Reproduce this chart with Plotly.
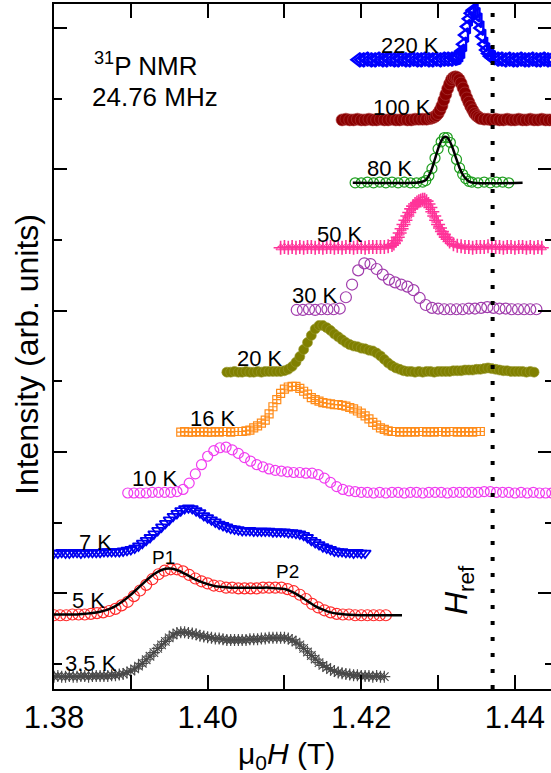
import plotly.graph_objects as go

# 31P NMR field-swept spectra at 24.76 MHz.
# Each spectrum: (mu0*H in T, normalised intensity above its own baseline).
spec_3p5K = [
    (1.3800, 0.00), (1.3805, 0.01), (1.3810, 0.00), (1.3815, 0.00), (1.3820, 0.01), (1.3825, 0.00),
    (1.3830, 0.00), (1.3835, 0.01), (1.3840, 0.01), (1.3845, 0.00), (1.3850, 0.01), (1.3855, 0.01),
    (1.3860, 0.01), (1.3865, 0.01), (1.3870, 0.01), (1.3875, 0.02), (1.3880, 0.02), (1.3885, 0.03),
    (1.3890, 0.04), (1.3895, 0.06), (1.3900, 0.08), (1.3905, 0.11), (1.3910, 0.15), (1.3915, 0.19),
    (1.3920, 0.24), (1.3925, 0.29), (1.3930, 0.34), (1.3935, 0.40), (1.3940, 0.45), (1.3945, 0.50),
    (1.3950, 0.55), (1.3955, 0.59), (1.3960, 0.62), (1.3965, 0.63), (1.3970, 0.63), (1.3975, 0.62),
    (1.3980, 0.61), (1.3985, 0.60), (1.3990, 0.58), (1.3995, 0.57), (1.4000, 0.56), (1.4005, 0.55),
    (1.4010, 0.54), (1.4015, 0.54), (1.4020, 0.53), (1.4025, 0.52), (1.4030, 0.52), (1.4035, 0.52),
    (1.4040, 0.52), (1.4045, 0.52), (1.4050, 0.52), (1.4055, 0.53), (1.4060, 0.53), (1.4065, 0.53),
    (1.4070, 0.54), (1.4075, 0.54), (1.4080, 0.55), (1.4085, 0.55), (1.4090, 0.55), (1.4095, 0.55),
    (1.4100, 0.55), (1.4105, 0.54), (1.4110, 0.52), (1.4115, 0.49), (1.4120, 0.45), (1.4125, 0.40),
    (1.4130, 0.35), (1.4135, 0.30), (1.4140, 0.25), (1.4145, 0.20), (1.4150, 0.16), (1.4155, 0.13),
    (1.4160, 0.10), (1.4165, 0.08), (1.4170, 0.06), (1.4175, 0.05), (1.4180, 0.04), (1.4185, 0.03),
    (1.4190, 0.02), (1.4195, 0.02), (1.4200, 0.01), (1.4205, 0.01), (1.4210, 0.01), (1.4215, 0.00),
    (1.4220, 0.01), (1.4225, 0.00), (1.4230, 0.00),
]

spec_5K = [
    (1.3800, 0.00), (1.3808, 0.00), (1.3816, 0.00), (1.3824, 0.01), (1.3832, 0.01), (1.3840, 0.01),
    (1.3848, 0.02), (1.3856, 0.03), (1.3864, 0.04), (1.3872, 0.06), (1.3880, 0.09), (1.3888, 0.14),
    (1.3896, 0.19), (1.3904, 0.27), (1.3912, 0.35), (1.3920, 0.43), (1.3928, 0.51), (1.3936, 0.58),
    (1.3944, 0.63), (1.3952, 0.65), (1.3960, 0.65), (1.3968, 0.62), (1.3976, 0.57), (1.3984, 0.52),
    (1.3992, 0.48), (1.4000, 0.45), (1.4008, 0.42), (1.4016, 0.41), (1.4024, 0.39), (1.4032, 0.39),
    (1.4040, 0.38), (1.4048, 0.38), (1.4056, 0.38), (1.4064, 0.38), (1.4072, 0.39), (1.4080, 0.39),
    (1.4088, 0.39), (1.4096, 0.39), (1.4104, 0.37), (1.4112, 0.34), (1.4120, 0.29), (1.4128, 0.23),
    (1.4136, 0.16), (1.4144, 0.11), (1.4152, 0.07), (1.4160, 0.04), (1.4168, 0.02), (1.4176, 0.01),
    (1.4184, 0.01), (1.4192, 0.00), (1.4200, 0.00), (1.4208, 0.00), (1.4216, 0.00), (1.4224, 0.00),
    (1.4232, 0.00),
]

fit_5K = [
    (1.380, 0.01), (1.381, 0.01), (1.382, 0.01), (1.383, 0.01), (1.384, 0.02), (1.385, 0.03),
    (1.386, 0.05), (1.387, 0.08), (1.388, 0.13), (1.389, 0.20), (1.390, 0.29), (1.391, 0.39),
    (1.392, 0.49), (1.393, 0.58), (1.394, 0.64), (1.395, 0.66), (1.396, 0.64), (1.397, 0.59),
    (1.398, 0.53), (1.399, 0.48), (1.400, 0.44), (1.401, 0.41), (1.402, 0.40), (1.403, 0.39),
    (1.404, 0.39), (1.405, 0.39), (1.406, 0.39), (1.407, 0.39), (1.408, 0.39), (1.409, 0.38),
    (1.410, 0.37), (1.411, 0.33), (1.412, 0.27), (1.413, 0.20), (1.414, 0.13), (1.415, 0.08),
    (1.416, 0.04), (1.417, 0.02), (1.418, 0.01), (1.420, 0.00), (1.4253, 0.00),
]

spec_7K = [
    (1.3800, 0.00), (1.3805, 0.00), (1.3810, 0.01), (1.3815, 0.00), (1.3820, 0.00), (1.3825, 0.01),
    (1.3830, 0.01), (1.3835, 0.00), (1.3840, 0.01), (1.3845, 0.01), (1.3850, 0.01), (1.3855, 0.01),
    (1.3860, 0.01), (1.3865, 0.02), (1.3870, 0.02), (1.3875, 0.02), (1.3880, 0.02), (1.3885, 0.02),
    (1.3890, 0.03), (1.3895, 0.04), (1.3900, 0.05), (1.3905, 0.07), (1.3910, 0.10), (1.3915, 0.14),
    (1.3920, 0.18), (1.3925, 0.22), (1.3930, 0.27), (1.3935, 0.32), (1.3940, 0.37), (1.3945, 0.42),
    (1.3950, 0.47), (1.3955, 0.52), (1.3960, 0.56), (1.3965, 0.60), (1.3970, 0.63), (1.3975, 0.64),
    (1.3980, 0.63), (1.3985, 0.60), (1.3990, 0.57), (1.3995, 0.53), (1.4000, 0.50), (1.4005, 0.47),
    (1.4010, 0.44), (1.4015, 0.41), (1.4020, 0.39), (1.4025, 0.37), (1.4030, 0.35), (1.4035, 0.34),
    (1.4040, 0.33), (1.4045, 0.32), (1.4050, 0.32), (1.4055, 0.32), (1.4060, 0.31), (1.4065, 0.31),
    (1.4070, 0.31), (1.4075, 0.31), (1.4080, 0.31), (1.4085, 0.30), (1.4090, 0.30), (1.4095, 0.30),
    (1.4100, 0.30), (1.4105, 0.29), (1.4110, 0.29), (1.4115, 0.28), (1.4120, 0.27), (1.4125, 0.25),
    (1.4130, 0.22), (1.4135, 0.18), (1.4140, 0.15), (1.4145, 0.12), (1.4150, 0.09), (1.4155, 0.07),
    (1.4160, 0.05), (1.4165, 0.03), (1.4170, 0.02), (1.4175, 0.02), (1.4180, 0.01), (1.4185, 0.01),
    (1.4190, 0.00), (1.4195, 0.01), (1.4200, 0.00), (1.4205, 0.00),
]

spec_10K = [
    (1.3896, 0.00), (1.3904, 0.00), (1.3912, 0.00), (1.3920, 0.00), (1.3928, 0.01), (1.3936, 0.01),
    (1.3944, 0.01), (1.3952, 0.01), (1.3960, 0.02), (1.3968, 0.05), (1.3976, 0.14), (1.3984, 0.27),
    (1.3992, 0.40), (1.4000, 0.52), (1.4008, 0.60), (1.4016, 0.64), (1.4024, 0.65), (1.4032, 0.61),
    (1.4040, 0.56), (1.4048, 0.50), (1.4056, 0.45), (1.4064, 0.40), (1.4072, 0.37), (1.4080, 0.34),
    (1.4088, 0.32), (1.4096, 0.31), (1.4104, 0.30), (1.4112, 0.29), (1.4120, 0.29), (1.4128, 0.28),
    (1.4136, 0.28), (1.4144, 0.26), (1.4152, 0.21), (1.4160, 0.15), (1.4168, 0.09), (1.4176, 0.05),
    (1.4184, 0.03), (1.4192, 0.02), (1.4200, 0.01), (1.4208, 0.01), (1.4216, 0.00), (1.4224, 0.01),
    (1.4232, 0.00), (1.4240, 0.01), (1.4248, 0.01), (1.4256, 0.00), (1.4264, 0.01), (1.4272, 0.01),
    (1.4280, 0.00), (1.4288, 0.01), (1.4296, 0.01), (1.4304, 0.01), (1.4312, 0.00), (1.4320, 0.01),
    (1.4328, 0.01), (1.4336, 0.01), (1.4344, 0.01), (1.4352, 0.01), (1.4360, 0.02), (1.4368, 0.02),
    (1.4376, 0.01), (1.4384, 0.01), (1.4392, 0.01), (1.4400, 0.00), (1.4408, 0.01), (1.4416, 0.00),
    (1.4424, 0.01), (1.4432, 0.00), (1.4440, 0.00), (1.4448, 0.00),
]

spec_16K = [
    (1.3965, 0.00), (1.3970, 0.01), (1.3975, 0.00), (1.3980, 0.00), (1.3985, 0.01), (1.3990, 0.00),
    (1.3995, 0.01), (1.4000, 0.00), (1.4005, 0.00), (1.4010, 0.01), (1.4015, 0.00), (1.4020, 0.01),
    (1.4025, 0.01), (1.4030, 0.00), (1.4035, 0.01), (1.4040, 0.01), (1.4045, 0.01), (1.4050, 0.02),
    (1.4055, 0.03), (1.4060, 0.06), (1.4065, 0.09), (1.4070, 0.13), (1.4075, 0.17), (1.4080, 0.26),
    (1.4085, 0.36), (1.4090, 0.46), (1.4095, 0.55), (1.4100, 0.61), (1.4105, 0.64), (1.4110, 0.65),
    (1.4115, 0.65), (1.4120, 0.62), (1.4125, 0.58), (1.4130, 0.54), (1.4135, 0.49), (1.4140, 0.46),
    (1.4145, 0.44), (1.4150, 0.42), (1.4155, 0.41), (1.4160, 0.40), (1.4165, 0.39), (1.4170, 0.39),
    (1.4175, 0.38), (1.4180, 0.37), (1.4185, 0.35), (1.4190, 0.33), (1.4195, 0.30), (1.4200, 0.27),
    (1.4205, 0.23), (1.4210, 0.19), (1.4215, 0.14), (1.4220, 0.10), (1.4225, 0.06), (1.4230, 0.04),
    (1.4235, 0.02), (1.4240, 0.01), (1.4245, 0.01), (1.4250, 0.00), (1.4255, 0.01), (1.4260, 0.00),
    (1.4265, 0.01), (1.4270, 0.00), (1.4275, 0.01), (1.4280, 0.01), (1.4285, 0.00), (1.4290, 0.01),
    (1.4295, 0.00), (1.4300, 0.01), (1.4305, 0.01), (1.4310, 0.00), (1.4315, 0.01), (1.4320, 0.01),
    (1.4325, 0.00), (1.4330, 0.01), (1.4335, 0.00), (1.4340, 0.01), (1.4345, 0.00), (1.4350, 0.01),
    (1.4355, 0.01),
]

spec_20K = [
    (1.4025, 0.00), (1.4030, 0.00), (1.4035, 0.01), (1.4040, 0.00), (1.4045, 0.00), (1.4050, 0.01),
    (1.4055, 0.00), (1.4060, 0.00), (1.4065, 0.01), (1.4070, 0.00), (1.4075, 0.01), (1.4080, 0.01),
    (1.4085, 0.01), (1.4090, 0.01), (1.4095, 0.01), (1.4100, 0.02), (1.4105, 0.04), (1.4110, 0.08),
    (1.4115, 0.14), (1.4120, 0.22), (1.4125, 0.32), (1.4130, 0.42), (1.4135, 0.52), (1.4140, 0.61),
    (1.4145, 0.66), (1.4150, 0.66), (1.4155, 0.63), (1.4160, 0.59), (1.4165, 0.54), (1.4170, 0.50),
    (1.4175, 0.46), (1.4180, 0.42), (1.4185, 0.39), (1.4190, 0.37), (1.4195, 0.36), (1.4200, 0.34),
    (1.4205, 0.33), (1.4210, 0.31), (1.4215, 0.30), (1.4220, 0.27), (1.4225, 0.23), (1.4230, 0.18),
    (1.4235, 0.13), (1.4240, 0.09), (1.4245, 0.06), (1.4250, 0.04), (1.4255, 0.02), (1.4260, 0.01),
    (1.4265, 0.01), (1.4270, 0.00), (1.4275, 0.01), (1.4280, 0.00), (1.4285, 0.01), (1.4290, 0.01),
    (1.4295, 0.00), (1.4300, 0.01), (1.4305, 0.01), (1.4310, 0.01), (1.4315, 0.01), (1.4320, 0.02),
    (1.4325, 0.02), (1.4330, 0.02), (1.4335, 0.03), (1.4340, 0.03), (1.4345, 0.03), (1.4350, 0.04),
    (1.4355, 0.04), (1.4360, 0.05), (1.4365, 0.06), (1.4370, 0.05), (1.4375, 0.04), (1.4380, 0.03),
    (1.4385, 0.02), (1.4390, 0.02), (1.4395, 0.01), (1.4400, 0.01), (1.4405, 0.01), (1.4410, 0.01),
    (1.4415, 0.00), (1.4420, 0.01), (1.4425, 0.00),
]

spec_30K = [
    (1.4116, 0.00), (1.4124, 0.00), (1.4132, 0.01), (1.4140, 0.00), (1.4148, 0.01), (1.4156, 0.01),
    (1.4164, 0.01), (1.4172, 0.02), (1.4180, 0.18), (1.4188, 0.36), (1.4196, 0.56), (1.4204, 0.66),
    (1.4212, 0.65), (1.4220, 0.58), (1.4228, 0.50), (1.4236, 0.43), (1.4244, 0.39), (1.4252, 0.36),
    (1.4260, 0.33), (1.4268, 0.28), (1.4276, 0.17), (1.4284, 0.07), (1.4292, 0.03), (1.4300, 0.02),
    (1.4308, 0.01), (1.4316, 0.01), (1.4324, 0.01), (1.4332, 0.01), (1.4340, 0.02), (1.4348, 0.02),
    (1.4356, 0.03), (1.4364, 0.04), (1.4372, 0.03), (1.4380, 0.02), (1.4388, 0.02), (1.4396, 0.01),
    (1.4404, 0.01), (1.4412, 0.01), (1.4420, 0.01), (1.4428, 0.01),
]

spec_50K = [
    (1.4095, 0.00), (1.4100, 0.01), (1.4105, 0.00), (1.4110, 0.01), (1.4115, 0.00), (1.4120, 0.01),
    (1.4125, 0.00), (1.4130, 0.01), (1.4135, 0.01), (1.4140, 0.00), (1.4145, 0.01), (1.4150, 0.00),
    (1.4155, 0.01), (1.4160, 0.01), (1.4165, 0.00), (1.4170, 0.01), (1.4175, 0.00), (1.4180, 0.01),
    (1.4185, 0.01), (1.4190, 0.00), (1.4195, 0.01), (1.4200, 0.01), (1.4205, 0.00), (1.4210, 0.01),
    (1.4215, 0.01), (1.4220, 0.01), (1.4225, 0.01), (1.4230, 0.01), (1.4235, 0.02), (1.4240, 0.04),
    (1.42425, 0.06), (1.4245, 0.10), (1.42475, 0.15), (1.4250, 0.21), (1.42525, 0.27), (1.4255, 0.33),
    (1.42575, 0.39), (1.4260, 0.45), (1.42625, 0.50), (1.4265, 0.55), (1.42675, 0.59), (1.4270, 0.62),
    (1.42725, 0.64), (1.4275, 0.66), (1.42775, 0.67), (1.4280, 0.68), (1.42825, 0.68), (1.4285, 0.66),
    (1.42875, 0.62), (1.4290, 0.57), (1.42925, 0.51), (1.4295, 0.45), (1.42975, 0.39), (1.4300, 0.33),
    (1.43025, 0.28), (1.4305, 0.23), (1.43075, 0.19), (1.4310, 0.15), (1.43125, 0.12), (1.4315, 0.09),
    (1.4320, 0.05), (1.4325, 0.03), (1.4330, 0.02), (1.4335, 0.01), (1.4340, 0.01), (1.4345, 0.00),
    (1.4350, 0.01), (1.4355, 0.01), (1.4360, 0.01), (1.4365, 0.02), (1.4370, 0.01), (1.4375, 0.01),
    (1.4380, 0.01), (1.4385, 0.00), (1.4390, 0.01), (1.4395, 0.01), (1.4400, 0.00), (1.4405, 0.01),
    (1.4410, 0.01), (1.4415, 0.00), (1.4420, 0.01), (1.4425, 0.00), (1.4430, 0.01), (1.4435, 0.00),
]

spec_80K = [
    (1.4192, 0.00), (1.4200, 0.00), (1.4208, 0.01), (1.4216, 0.00), (1.4224, 0.01), (1.4232, 0.00),
    (1.4240, 0.01), (1.4248, 0.00), (1.4256, 0.01), (1.4264, 0.00), (1.4272, 0.00), (1.4280, 0.01),
    (1.4284, 0.03), (1.4288, 0.10), (1.4292, 0.20), (1.4296, 0.35), (1.4300, 0.48), (1.4304, 0.58),
    (1.4308, 0.64), (1.4312, 0.64), (1.4316, 0.57), (1.4320, 0.46), (1.4324, 0.33), (1.4328, 0.21),
    (1.4332, 0.12), (1.4336, 0.06), (1.4340, 0.02), (1.4344, 0.01), (1.4352, 0.00), (1.4360, 0.01),
    (1.4368, 0.00), (1.4376, 0.01), (1.4384, 0.01), (1.4392, 0.00),
]

fit_80K = [
    (1.4189, 0.00), (1.4270, 0.00), (1.4278, 0.01), (1.4284, 0.04), (1.4288, 0.10), (1.4292, 0.20),
    (1.4296, 0.34), (1.4300, 0.48), (1.4304, 0.59), (1.4308, 0.65), (1.4312, 0.64), (1.4316, 0.57),
    (1.4320, 0.46), (1.4324, 0.33), (1.4328, 0.21), (1.4332, 0.12), (1.4336, 0.06), (1.4340, 0.02),
    (1.4346, 0.00), (1.4410, 0.00),
]

spec_100K = [
    (1.4175, 0.00), (1.4180, 0.01), (1.4185, 0.00), (1.4190, 0.00), (1.4195, 0.01), (1.4200, 0.00),
    (1.4205, 0.00), (1.4210, 0.01), (1.4215, 0.00), (1.4220, 0.00), (1.4225, 0.01), (1.4230, 0.00),
    (1.4235, 0.00), (1.4240, 0.01), (1.4245, 0.00), (1.4250, 0.00), (1.4255, 0.01), (1.4260, 0.00),
    (1.4265, 0.00), (1.4270, 0.01), (1.4275, 0.01), (1.4280, 0.01), (1.4285, 0.01), (1.4290, 0.02),
    (1.42925, 0.03), (1.4295, 0.04), (1.42975, 0.06), (1.4300, 0.09), (1.43025, 0.14), (1.4305, 0.20),
    (1.43075, 0.28), (1.4310, 0.36), (1.43125, 0.44), (1.4315, 0.51), (1.43175, 0.57), (1.4320, 0.60),
    (1.43225, 0.61), (1.4325, 0.60), (1.43275, 0.57), (1.4330, 0.52), (1.43325, 0.45), (1.4335, 0.38),
    (1.43375, 0.31), (1.4340, 0.25), (1.43425, 0.19), (1.4345, 0.14), (1.43475, 0.09), (1.4350, 0.06),
    (1.43525, 0.04), (1.4355, 0.02), (1.4360, 0.01), (1.4365, 0.01), (1.4370, 0.00), (1.4375, 0.01),
    (1.4380, 0.00), (1.4385, 0.00), (1.4390, 0.01), (1.4395, 0.00), (1.4400, 0.00), (1.4405, 0.01),
    (1.4410, 0.00), (1.4415, 0.00), (1.4420, 0.01), (1.4425, 0.00), (1.4430, 0.00), (1.4435, 0.01),
    (1.4440, 0.00), (1.4445, 0.00), (1.4450, 0.00),
]

spec_220K = [
    (1.4195, 0.00), (1.4200, 0.00), (1.4205, 0.01), (1.4210, 0.00), (1.4215, 0.00), (1.4220, 0.01),
    (1.4225, 0.00), (1.4230, 0.00), (1.4235, 0.01), (1.4240, 0.00), (1.4245, 0.00), (1.4250, 0.01),
    (1.4255, 0.00), (1.4260, 0.00), (1.4265, 0.01), (1.4270, 0.00), (1.4275, 0.00), (1.4280, 0.01),
    (1.4285, 0.00), (1.4290, 0.00), (1.4295, 0.01), (1.4300, 0.00), (1.4305, 0.01), (1.4310, 0.01),
    (1.4315, 0.01), (1.4320, 0.02), (1.43225, 0.03), (1.4325, 0.04), (1.43275, 0.07), (1.4330, 0.12),
    (1.43325, 0.22), (1.4335, 0.35), (1.43375, 0.47), (1.4340, 0.58), (1.43425, 0.66), (1.4345, 0.70),
    (1.43475, 0.69), (1.4350, 0.64), (1.43525, 0.56), (1.4355, 0.45), (1.43575, 0.33), (1.4360, 0.22),
    (1.43625, 0.14), (1.4365, 0.09), (1.43675, 0.05), (1.4370, 0.03), (1.4375, 0.01), (1.4380, 0.01),
    (1.4385, 0.00), (1.4390, 0.01), (1.4395, 0.00), (1.4400, 0.00), (1.4405, 0.01), (1.4410, 0.00),
    (1.4415, 0.00), (1.4420, 0.01), (1.4425, 0.00), (1.4430, 0.00), (1.4435, 0.01), (1.4440, 0.00),
    (1.4445, 0.00), (1.4450, 0.00),
]

# temperature labels and vertical offsets of the stacked spectra
temperatures = ["3.5 K", "5 K", "7 K", "10 K", "16 K", "20 K", "30 K", "50 K", "80 K", "100 K", "220 K"]
offsets = [-0.18, 0.69, 1.57, 2.42, 3.28, 4.13, 5.01, 5.89, 6.81, 7.70, 8.55]
spectra = [spec_3p5K, spec_5K, spec_7K, spec_10K, spec_16K, spec_20K,
           spec_30K, spec_50K, spec_80K, spec_100K, spec_220K]

# reference field
H_REF = 1.4371

FONT = "Liberation Sans, Arial, sans-serif"

styles = {
    "3.5 K": dict(mode="lines+markers", line=dict(color="#1a1a1a", width=1.5),
                  marker=dict(symbol="asterisk-open", size=10, color="#4a4a4a", line=dict(width=1.2, color="#4a4a4a"))),
    "5 K": dict(mode="markers",
                marker=dict(symbol="circle-open", size=11, color="#ff2a2a", line=dict(width=1.2, color="#ff2a2a"))),
    "7 K": dict(mode="markers",
                marker=dict(symbol="triangle-down-open", size=10, color="#0000f0", line=dict(width=1.8, color="#0000f0"))),
    "10 K": dict(mode="markers",
                 marker=dict(symbol="circle-open", size=10, color="#f03cf0", line=dict(width=1.2, color="#f03cf0"))),
    "16 K": dict(mode="markers",
                 marker=dict(symbol="square-cross-open", size=8, color="#ff8c1a", line=dict(width=1.2, color="#ff8c1a"))),
    "20 K": dict(mode="markers",
                 marker=dict(symbol="circle", size=10, color="#808000", line=dict(width=0.6, color="#9a9a30"))),
    "30 K": dict(mode="markers",
                 marker=dict(symbol="circle-open", size=11, color="#a03cac", line=dict(width=1.2, color="#a03cac"))),
    "50 K": dict(mode="markers",
                 marker=dict(symbol="cross-thin-open", size=10, color="#ff3399", line=dict(width=1.6, color="#ff3399"))),
    "80 K": dict(mode="markers",
                 marker=dict(symbol="circle-open", size=10, color="#1e9e1e", line=dict(width=1.2, color="#1e9e1e"))),
    "100 K": dict(mode="markers",
                  marker=dict(symbol="circle", size=12, color="#8b0000", line=dict(width=0.6, color="#b04040"))),
    "220 K": dict(mode="markers",
                  marker=dict(symbol="triangle-left-open", size=12, color="#0000ff", line=dict(width=2.4, color="#0000ff"))),
}

fig = go.Figure()

for label, off, spec in zip(temperatures, offsets, spectra):
    xs = [p[0] for p in spec]
    ys = [p[1] + off for p in spec]
    fig.add_trace(go.Scatter(x=xs, y=ys, name=label, showlegend=False, **styles[label]))
    if label == "50 K":
        fig.add_trace(go.Scatter(x=xs, y=ys, mode="markers", showlegend=False,
                                 marker=dict(symbol="triangle-up-open", size=8, color="#ff3399",
                                             line=dict(width=1, color="#ff3399"))))

# fitted lines for 5 K and 80 K
for fit, off in ((fit_5K, offsets[1]), (fit_80K, offsets[8])):
    fig.add_trace(go.Scatter(x=[p[0] for p in fit], y=[p[1] + off for p in fit], mode="lines",
                             line=dict(color="black", width=2.5, shape="spline"), showlegend=False))

# right-hand tick marks (no axis line on that side)
fig.add_trace(go.Scatter(x=[], y=[], yaxis="y2", showlegend=False))

Y_RANGE = [-0.354, 9.34]
tick_common = dict(ticks="inside", tickwidth=2, tickcolor="black", showgrid=False, zeroline=False)

fig.update_layout(
    width=551, height=773,
    margin=dict(l=54, r=0, t=4, b=84),
    paper_bgcolor="white", plot_bgcolor="white",
    showlegend=False,
    font=dict(family=FONT, color="black"),
    xaxis=dict(range=[1.38, 1.4447], tick0=1.38, dtick=0.02, tickformat=".2f", ticklen=14,
               showline=True, linewidth=2, linecolor="black", mirror="allticks",
               tickfont=dict(size=31, family=FONT, color="black"),
               minor=dict(tick0=1.38, dtick=0.01, ticklen=7, tickwidth=2, ticks="inside", tickcolor="black"),
               **tick_common),
    yaxis=dict(range=Y_RANGE, tick0=1, dtick=2, ticklen=13, showticklabels=False,
               showline=True, linewidth=2, linecolor="black",
               minor=dict(tick0=0, dtick=1, ticklen=8, tickwidth=2, ticks="inside", tickcolor="black"),
               **tick_common),
    yaxis2=dict(range=Y_RANGE, overlaying="y", side="right", tick0=1, dtick=2, ticklen=13,
                showticklabels=False, showline=False,
                minor=dict(tick0=0, dtick=1, ticklen=6, tickwidth=2, ticks="inside", tickcolor="black"),
                **tick_common),
)

# dotted reference-field line
fig.add_shape(type="line", xref="x", yref="paper", x0=H_REF, x1=H_REF, y0=0, y1=0.991,
              line=dict(color="black", width=4, dash="4px,12px"), layer="above")

# temperature labels
label_pos = {
    "3.5 K": (1.38488, 0.00), "5 K": (1.38443, 0.90), "7 K": (1.38534, 1.726),
    "10 K": (1.39315, 2.632), "16 K": (1.40070, 3.481), "20 K": (1.40681, 4.330),
    "30 K": (1.41397, 5.221), "50 K": (1.41722, 6.071), "80 K": (1.42373, 7.019),
    "100 K": (1.42530, 7.882), "220 K": (1.42634, 8.759),
}
for t in temperatures:
    x, y = label_pos[t]
    fig.add_annotation(x=x, y=y, xref="x", yref="y", text=t, showarrow=False,
                       font=dict(size=22, family=FONT, color="black"), xanchor="center", yanchor="middle")

for txt, x, y in (("P1", 1.39419, 1.514), ("P2", 1.41046, 1.302)):
    fig.add_annotation(x=x, y=y, xref="x", yref="y", text=txt, showarrow=False,
                       font=dict(size=19, family=FONT, color="black"), xanchor="center", yanchor="middle")

fig.add_annotation(x=0.0765, y=0.911, xref="paper", yref="paper", text="<sup>31</sup>P NMR",
                   showarrow=False, font=dict(size=26, family=FONT, color="black"),
                   xanchor="left", yanchor="middle")
fig.add_annotation(x=0.0724, y=0.864, xref="paper", yref="paper", text="24.76 MHz",
                   showarrow=False, font=dict(size=26, family=FONT, color="black"),
                   xanchor="left", yanchor="middle")

fig.add_annotation(x=0.8129, y=0.1445, xref="paper", yref="paper", text="<i>H</i><sub>ref</sub>",
                   textangle=-90, showarrow=False, font=dict(size=32, family=FONT, color="black"),
                   xanchor="center", yanchor="middle")

# axis titles
fig.add_annotation(x=-0.0543, y=0.4876, xref="paper", yref="paper", text="Intensity (arb. units)",
                   textangle=-90, showarrow=False, font=dict(size=32, family=FONT, color="black"),
                   xanchor="center", yanchor="middle")
fig.add_annotation(x=0.4688, y=-0.0964, xref="paper", yref="paper", text="μ<sub>0</sub><i>H</i> (T)",
                   showarrow=False, font=dict(size=30, family=FONT, color="black"),
                   xanchor="center", yanchor="middle")

fig.write_html("out.html")
